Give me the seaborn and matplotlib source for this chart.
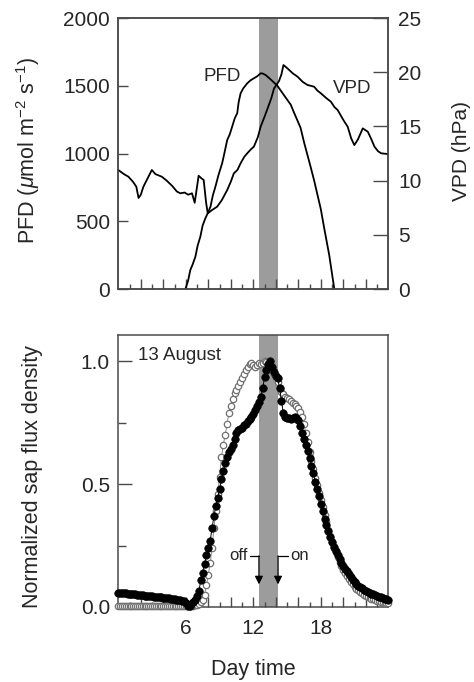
import numpy as np
import pandas as pd
import matplotlib
matplotlib.use("Agg")
import matplotlib.pyplot as plt
import seaborn as sns

sns.set_style("ticks")
plt.rcParams["font.family"] = ["Liberation Sans", "DejaVu Sans"]
plt.rcParams["mathtext.fontset"] = "custom"
plt.rcParams["mathtext.rm"] = "Liberation Sans"
plt.rcParams["mathtext.it"] = "Liberation Sans:italic"

# ---------------- data ----------------
# Top panel: photon flux density (PFD, left axis) and VPD (right axis)
pfd_hours = [5.96, 6.2, 6.4, 6.6, 6.85, 7.05, 7.29, 7.5, 7.74, 7.95, 8.19, 8.4, 8.63,
             8.9, 9.23, 9.45, 9.68, 9.9, 10.12, 10.35, 10.57, 10.7, 10.87, 11.1, 11.46,
             11.75, 12.05, 12.35, 12.65, 12.85, 13.1, 13.5, 14.14, 14.73, 15.33, 15.63,
             16.2, 16.52, 17.1, 17.41, 18.0, 18.3, 18.75, 19.2]
pfd_values = [0, 60, 140, 180, 238, 320, 386, 470, 522, 560, 607, 690, 755,
              840, 928, 1010, 1100, 1140, 1198, 1260, 1297, 1380, 1444, 1480, 1518,
              1540, 1555, 1570, 1592, 1590, 1579, 1550, 1500, 1430, 1360, 1300,
              1190, 1080, 900, 800, 590, 450, 250, 0]

vpd_hours = [0.0, 0.5, 0.9, 1.3, 1.6, 1.8, 2.0, 2.23, 2.6, 2.98, 3.3, 3.87, 4.3, 4.8,
             5.2, 5.51, 5.9, 6.2, 6.55, 6.79, 7.14, 7.4, 7.59, 7.8, 7.95, 8.34, 8.79,
             9.2, 9.68, 10.0, 10.27, 10.6, 10.87, 11.2, 11.46, 11.8, 12.05, 12.4,
             12.65, 13.0, 13.25, 13.6, 13.84, 14.1, 14.29, 14.5, 14.68, 15.03, 15.5,
             15.93, 16.4, 16.82, 17.1, 17.41, 17.7, 18.01, 18.5, 18.9, 19.2, 19.5,
             20.0, 20.39, 20.7, 20.98, 21.3, 21.73, 22.18, 22.5, 22.77, 23.1, 23.37,
             23.96, 24.0]
vpd_values = [10.98, 10.6, 10.36, 9.9, 9.44, 8.4, 8.7, 9.44, 10.2, 10.98, 10.6, 10.36,
              10.0, 9.5, 9.0, 8.83, 8.9, 8.7, 8.83, 7.96, 10.45, 10.2, 10.06, 8.0, 6.98,
              7.29, 7.6, 8.2, 9.13, 9.9, 10.67, 11.0, 11.6, 12.2, 12.52, 12.9, 13.13,
              14.0, 14.97, 15.9, 16.6, 17.6, 18.5, 18.9, 19.2, 19.8, 20.66, 20.36, 19.9,
              19.59, 19.1, 18.82, 18.75, 18.66, 18.3, 18.05, 17.6, 17.28, 16.8, 16.51,
              15.6, 14.97, 13.9, 13.28, 13.8, 14.82, 14.51, 13.8, 13.13, 12.7, 12.52,
              12.45, 12.45]

# Bottom panel: normalized sap flux density, 10-min records from 0:00 to 24:00
sap_filled = [
    0.058, 0.057, 0.056, 0.056, 0.055, 0.054,   # 0 h
    0.053, 0.052, 0.052, 0.051, 0.050, 0.049,   # 1 h
    0.048, 0.047, 0.046, 0.046, 0.045, 0.044,   # 2 h
    0.043, 0.042, 0.041, 0.040, 0.040, 0.039,   # 3 h
    0.038, 0.037, 0.036, 0.035, 0.034, 0.033,   # 4 h
    0.031, 0.030, 0.028, 0.027, 0.026, 0.024,   # 5 h
    0.015, 0.004, 0.002, 0.014, 0.022, 0.030,   # 6 h
    0.045, 0.065, 0.110, 0.140, 0.175, 0.210,   # 7 h
    0.240, 0.270, 0.320, 0.370, 0.410, 0.445,   # 8 h
    0.480, 0.520, 0.555, 0.585, 0.610, 0.630,   # 9 h
    0.645, 0.660, 0.685, 0.710, 0.720, 0.725,   # 10 h
    0.730, 0.740, 0.745, 0.755, 0.765, 0.775,   # 11 h
    0.785, 0.800, 0.820, 0.835, 0.855, 0.890,   # 12 h
    0.935, 0.965, 0.990, 1.000, 0.975, 0.955,   # 13 h
    0.940, 0.930, 0.890, 0.840, 0.790, 0.775,   # 14 h
    0.770, 0.770, 0.765, 0.770, 0.772, 0.768,   # 15 h
    0.760, 0.735, 0.710, 0.685, 0.660, 0.635,   # 16 h
    0.605, 0.575, 0.545, 0.510, 0.480, 0.450,   # 17 h
    0.420, 0.390, 0.360, 0.335, 0.310, 0.285,   # 18 h
    0.265, 0.245, 0.228, 0.212, 0.196, 0.181,   # 19 h
    0.168, 0.156, 0.145, 0.133, 0.122, 0.110,   # 20 h
    0.100, 0.093, 0.087, 0.081, 0.076, 0.071,   # 21 h
    0.066, 0.062, 0.058, 0.054, 0.051, 0.048,   # 22 h
    0.045, 0.042, 0.039, 0.036, 0.034, 0.032,   # 23 h
    0.030]                                       # 24 h
sap_open = [
    0.006, 0.006, 0.005, 0.005, 0.005, 0.005,   # 0 h
    0.005, 0.005, 0.005, 0.005, 0.004, 0.004,   # 1 h
    0.004, 0.004, 0.004, 0.004, 0.004, 0.004,   # 2 h
    0.004, 0.004, 0.004, 0.004, 0.004, 0.004,   # 3 h
    0.004, 0.004, 0.004, 0.004, 0.004, 0.004,   # 4 h
    0.004, 0.004, 0.004, 0.004, 0.004, 0.004,   # 5 h
    0.004, 0.003, 0.003, 0.004, 0.006, 0.008,   # 6 h
    0.010, 0.014, 0.020, 0.030, 0.050, 0.090,   # 7 h
    0.130, 0.180, 0.240, 0.320, 0.390, 0.460,   # 8 h
    0.530, 0.610, 0.660, 0.700, 0.745, 0.790,   # 9 h
    0.820, 0.845, 0.870, 0.885, 0.900, 0.915,   # 10 h
    0.930, 0.950, 0.965, 0.975, 0.990, 0.995,   # 11 h
    0.985, 0.975, 0.985, 0.995, 0.990, 0.995,   # 12 h
    1.000, 0.998, 0.990, 0.985, 0.965, 0.950,   # 13 h
    0.935, 0.915, 0.890, 0.875, 0.865, 0.855,   # 14 h
    0.850, 0.845, 0.838, 0.832, 0.825, 0.818,   # 15 h
    0.810, 0.795, 0.775, 0.745, 0.710, 0.670,   # 16 h
    0.630, 0.595, 0.560, 0.525, 0.495, 0.465,   # 17 h
    0.435, 0.405, 0.375, 0.345, 0.315, 0.290,   # 18 h
    0.265, 0.242, 0.222, 0.203, 0.185, 0.168,   # 19 h
    0.152, 0.138, 0.125, 0.113, 0.102, 0.092,   # 20 h
    0.083, 0.075, 0.068, 0.061, 0.055, 0.050,   # 21 h
    0.045, 0.041, 0.037, 0.034, 0.031, 0.028,   # 22 h
    0.026, 0.024, 0.022, 0.020, 0.019, 0.018,   # 23 h
    0.017]                                       # 24 h
sap_hours = np.arange(len(sap_filled)) / 6.0

shade_start, shade_end = 12.5, 14.2
x_label_hours = [6, 12, 18]

# ---------------- figure ----------------
SPINE = "#4a4a4a"
fig = plt.figure(figsize=(4.74, 6.82), dpi=100)
ax1 = fig.add_axes([0.2496, 0.5762, 0.5696, 0.3974])
ax3 = fig.add_axes([0.2496, 0.1100, 0.5696, 0.3988])


def style_xaxis(ax, labels):
    ax.set_xlim(0, 24)
    ax.set_xticks(list(range(2, 24, 2)))
    ax.set_xticks(list(range(1, 24, 2)), minor=True)
    if labels:
        ax.set_xticklabels([str(h) if h in x_label_hours else "" for h in range(2, 24, 2)])
    else:
        ax.set_xticklabels([])
    ax.tick_params(axis="x", which="major", direction="in", length=7, width=1.0,
                   color=SPINE, labelsize=15, pad=9)
    ax.tick_params(axis="x", which="minor", direction="in", length=3.5, width=1.0,
                   color=SPINE)
    for s in ax.spines.values():
        s.set_color(SPINE)
        s.set_linewidth(1.1)


# ---- top panel ----
ax1.axvspan(shade_start, shade_end, color="#9c9c9c", lw=0, zorder=0)
df_pfd = pd.DataFrame({"hour": pfd_hours, "pfd": pfd_values})
sns.lineplot(data=df_pfd, x="hour", y="pfd", ax=ax1, color="black", lw=1.3,
             estimator=None)
ax1.set_ylim(0, 2000)
ax1.set_yticks([0, 500, 1000, 1500, 2000])
ax1.tick_params(axis="y", direction="in", length=7, width=1.0, color=SPINE,
                labelsize=15, pad=6)
style_xaxis(ax1, labels=False)
ax1.set_xlabel("")
ax1.set_ylabel(r"PFD ($\mu$mol m$^{-2}$ s$^{-1}$)", fontsize=15.5)
ax1.yaxis.set_label_coords(-0.283, 0.51)

ax2 = ax1.twinx()
df_vpd = pd.DataFrame({"hour": vpd_hours, "vpd": vpd_values})
sns.lineplot(data=df_vpd, x="hour", y="vpd", ax=ax2, color="black", lw=1.3,
             estimator=None)
ax2.set_ylim(0, 25)
ax2.set_yticks([0, 5, 10, 15, 20, 25])
ax2.tick_params(axis="y", direction="in", length=11, width=1.0, color=SPINE,
                labelsize=15, pad=7)
ax2.set_ylabel("VPD (hPa)", fontsize=15)
ax2.yaxis.set_label_coords(1.236, 0.51)
ax2.set_xlabel("")
for s in ax2.spines.values():
    s.set_color(SPINE)
    s.set_linewidth(1.1)
ax2.set_xlim(0, 24)

ax1.text(9.26, 1565, "PFD", fontsize=13.5, ha="center", va="center")
ax1.text(20.76, 1483, "VPD", fontsize=13.5, ha="center", va="center")

# ---- bottom panel ----
ax3.axvspan(shade_start, shade_end, color="#9c9c9c", lw=0, zorder=0)
df_sap = pd.DataFrame({"hour": sap_hours, "open": sap_open, "filled": sap_filled})
sns.lineplot(data=df_sap, x="hour", y="open", ax=ax3, color="#8a8a8a", lw=0.7,
             marker="o", markersize=4.6, markerfacecolor="white",
             markeredgecolor="#707070", markeredgewidth=0.9, estimator=None,
             clip_on=False, zorder=3)
sns.lineplot(data=df_sap, x="hour", y="filled", ax=ax3, color="black", lw=0.7,
             marker="o", markersize=5.4, markerfacecolor="black",
             markeredgecolor="black", markeredgewidth=0.5, estimator=None,
             clip_on=False, zorder=4)
ax3.set_ylim(0, 1.107)
ax3.set_yticks([0, 0.5, 1.0])
ax3.set_yticklabels(["0.0", "0.5", "1.0"])
ax3.set_yticks([0.25, 0.75], minor=True)
ax3.tick_params(axis="y", which="major", direction="in", length=10, width=1.0,
                color=SPINE, labelsize=15, pad=6)
ax3.tick_params(axis="y", which="minor", direction="in", length=6, width=1.0,
                color=SPINE)
style_xaxis(ax3, labels=True)
ax3.set_ylabel("Normalized sap flux density", fontsize=15.5)
ax3.yaxis.set_label_coords(-0.279, 0.48)
ax3.set_xlabel("Day time", fontsize=15.5)
ax3.xaxis.set_label_coords(0.5, -0.19)

ax3.text(1.76, 1.024, "13 August", fontsize=13.5, ha="left", va="center")

# off / on arrows
ax3.plot([11.75, shade_start], [0.208, 0.208], color="black", lw=0.9)
ax3.plot([shade_end, 15.05], [0.208, 0.208], color="black", lw=0.9)
for xa in (shade_start, shade_end):
    ax3.annotate("", xy=(xa, 0.092), xytext=(xa, 0.208),
                 arrowprops=dict(arrowstyle="-|>", color="black", lw=0.9,
                                 mutation_scale=12, shrinkA=0, shrinkB=0))
ax3.text(11.5, 0.208, "off", fontsize=12, ha="right", va="center")
ax3.text(15.3, 0.208, "on", fontsize=12, ha="left", va="center")

fig.savefig("out.png", dpi=100)
